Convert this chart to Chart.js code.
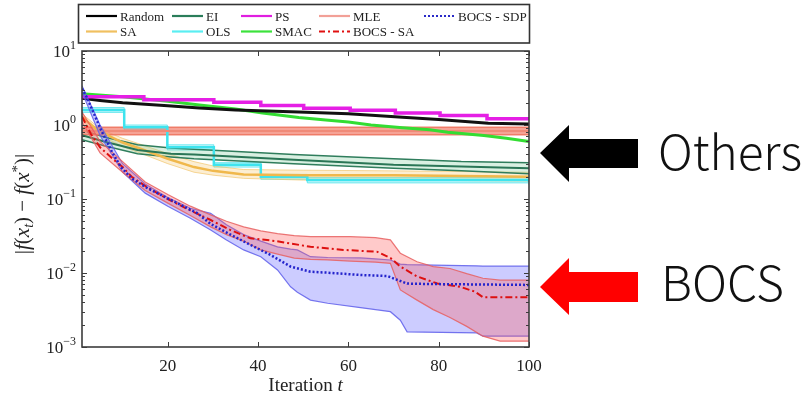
<!DOCTYPE html>
<html>
<head>
<meta charset="utf-8">
<script src="https://cdn.jsdelivr.net/npm/chart.js@4.4.0/dist/chart.umd.min.js"></script>
<style>
  html, body { margin: 0; padding: 0; background: #fff; }
  #wrap { position: relative; width: 805px; height: 398px; }
  #chart { position: absolute; left: 0; top: 0; }
  #overlay { position: absolute; left: 0; top: 0; pointer-events: none; }
</style>
</head>
<body>
<div id="wrap">
  <canvas id="chart" width="805" height="398"></canvas>
  <svg id="overlay" width="805" height="398" xmlns="http://www.w3.org/2000/svg"></svg>
</div>
<script>
// axis ticks
const iterTicks = [20, 40, 60, 80, 100];
const decadeTicks = [0.001, 0.01, 0.1, 1, 10];

// series (t = iteration, values = |f(x_t) - f(x*)|)
const randomT = [1, 5, 10, 20, 27, 35, 49, 60, 72, 80, 91, 100];
const randomY = [2.3, 2.15, 2.0, 1.82, 1.7, 1.6, 1.5, 1.42, 1.27, 1.19, 1.06, 1.03];

const psT = [1, 14.7, 30.2, 40.6, 50.1, 60.4, 70.4, 80.3, 90.7, 100];
const psY = [2.4, 2.2, 2.03, 1.84, 1.69, 1.58, 1.45, 1.34, 1.21, 1.21];

const smacT = [1, 10, 20, 27, 35, 41, 49, 55, 60, 65, 72, 78, 82, 90, 95, 100];
const smacY = [2.65, 2.4, 2.1, 1.86, 1.65, 1.45, 1.26, 1.17, 1.1, 1.0, 0.92, 0.86, 0.8, 0.72, 0.66, 0.6];

const mleT = [1, 100];
const mleY = [0.83, 0.83];
const mleHi = [0.93, 0.93];
const mleLo = [0.74, 0.74];

const saT = [1, 4, 7.4, 10, 14.7, 20, 25.8, 30, 36.8, 50, 70, 100];
const saY = [1.28, 0.9, 0.69, 0.58, 0.46, 0.35, 0.27, 0.24, 0.215, 0.21, 0.21, 0.2];
const saHi = [1.42, 1.0, 0.77, 0.66, 0.53, 0.41, 0.32, 0.28, 0.25, 0.245, 0.24, 0.23];
const saLo = [1.14, 0.8, 0.61, 0.51, 0.4, 0.3, 0.23, 0.21, 0.19, 0.18, 0.18, 0.175];

const eiT = [1, 5.9, 13.3, 20.7, 25.8, 47.9, 70, 85, 100];
const eiY = [0.73, 0.6, 0.46, 0.41, 0.4, 0.34, 0.29, 0.275, 0.26];
const eiHi = [0.86, 0.69, 0.54, 0.49, 0.47, 0.4, 0.35, 0.32, 0.31];
const eiLo = [0.63, 0.525, 0.41, 0.37, 0.35, 0.3, 0.26, 0.24, 0.22];

const olsT = [1, 10.35, 19.9, 30.2, 40.6, 50.9, 100];
const olsY = [1.6, 0.93, 0.5, 0.29, 0.2, 0.18, 0.17];
const olsHi = [1.72, 1.0, 0.54, 0.31, 0.215, 0.195, 0.185];
const olsLo = [1.48, 0.86, 0.46, 0.27, 0.185, 0.165, 0.155];

const bocsSaT = [1, 3, 5, 8, 10, 12, 15, 20, 25, 29.5, 33.9, 38.3, 44, 51.6, 58.9, 66.3, 69.3, 71.5, 75.2, 79.7, 84.8, 88, 89.8, 100];
const bocsSaY = [1.3, 0.75, 0.5, 0.34, 0.27, 0.2, 0.15, 0.1, 0.07, 0.052, 0.038, 0.0294, 0.027, 0.0226, 0.0205, 0.0194, 0.016, 0.0122, 0.009, 0.0072, 0.0065, 0.0056, 0.0047, 0.0047];
const bocsSaBandT = [1, 5, 10, 15, 20, 25, 29.5, 33, 36.8, 40.6, 44.3, 48, 51.6, 55.4, 60.4, 66, 69.3, 71.5, 75.2, 78.8, 82.5, 86.2, 89.8, 93.6, 100];
const bocsSaHi = [1.5, 0.6, 0.32, 0.17, 0.115, 0.08, 0.061, 0.05, 0.042, 0.037, 0.034, 0.032, 0.031, 0.031, 0.031, 0.03, 0.028, 0.0185, 0.0142, 0.0122, 0.0115, 0.0098, 0.0085, 0.008, 0.008];
const bocsSaLo = [1.1, 0.42, 0.23, 0.13, 0.088, 0.06, 0.042, 0.033, 0.027, 0.0205, 0.018, 0.0159, 0.0153, 0.015, 0.0145, 0.014, 0.0135, 0.0059, 0.0043, 0.0032, 0.0025, 0.0019, 0.0014, 0.0012, 0.0012];

const bocsSdpT = [1, 2, 3, 5.2, 7.5, 9.6, 12, 15.5, 20.7, 26.6, 29.5, 33.9, 38.3, 42.8, 47.2, 51.6, 55.4, 62.7, 68.6, 71, 73, 77.5, 100];
const bocsSdpY = [3.1, 2.4, 1.75, 0.86, 0.45, 0.27, 0.19, 0.14, 0.097, 0.064, 0.046, 0.033, 0.024, 0.0175, 0.0122, 0.0104, 0.0101, 0.0094, 0.0091, 0.008, 0.0072, 0.0071, 0.0069];
const bocsSdpBandT = [1, 5, 10, 15, 20, 25, 29.5, 33, 36.8, 40.6, 44.3, 47.2, 48.7, 51.6, 55.4, 62.7, 66, 69.3, 71.5, 73, 88.4, 89.8, 100];
const bocsSdpHi = [3.4, 1.0, 0.3, 0.16, 0.105, 0.075, 0.064, 0.045, 0.033, 0.027, 0.0226, 0.021, 0.0205, 0.0166, 0.0162, 0.016, 0.0155, 0.015, 0.0132, 0.013, 0.0125, 0.0124, 0.0124];
const bocsSdpLo = [2.8, 0.72, 0.23, 0.12, 0.08, 0.055, 0.038, 0.028, 0.0205, 0.0166, 0.011, 0.0065, 0.0055, 0.0043, 0.0039, 0.0034, 0.0032, 0.003, 0.0023, 0.0016, 0.00155, 0.0014, 0.0014];

const pts = (ts, vs) => ts.map((t, i) => ({ x: t, y: vs[i] }));

function line(label, ts, vs, color, width, order, extra) {
  return Object.assign({
    label, data: pts(ts, vs), borderColor: color, borderWidth: width,
    pointRadius: 0, fill: false, tension: 0, order
  }, extra || {});
}

function band(ts, hi, lo, edge, fillColor, edgeWidth, order, extra) {
  return [
    Object.assign({ data: pts(ts, hi), borderColor: edge, borderWidth: edgeWidth, pointRadius: 0, fill: false, order }, extra || {}),
    Object.assign({ data: pts(ts, lo), borderColor: edge, borderWidth: edgeWidth, pointRadius: 0, fill: '-1', backgroundColor: fillColor, order }, extra || {})
  ];
}

// stepped: true keeps the previous value until the next point, then drops
const datasets = [
  ...band(mleT, mleHi, mleLo, 'rgba(238,118,98,0.9)', 'rgba(243,128,110,0.72)', 1.5, 30),
  ...band(eiT, eiHi, eiLo, '#2f7d5c', 'rgba(130,205,160,0.3)', 1.5, 30),
  ...band(saT, saHi, saLo, 'rgba(240,190,90,0.6)', 'rgba(245,200,110,0.3)', 1, 30),
  ...band(olsT, olsHi, olsLo, 'rgba(60,225,235,0.7)', 'rgba(90,230,240,0.3)', 1, 30, { stepped: true }),
  line('MLE', mleT, mleY, '#f08a78', 2, 20),
  line('EI', eiT, eiY, '#2a7656', 2, 20),
  line('SA', saT, saY, '#f0b84c', 2.5, 20),
  line('OLS', olsT, olsY, '#3ee4ee', 2.5, 20, { stepped: true }),
  line('SMAC', smacT, smacY, '#33dd33', 3, 15),
  line('Random', randomT, randomY, '#111111', 3, 14),
  line('PS', psT, psY, '#e51fe5', 3.5, 13, { stepped: true }),
  ...band(bocsSdpBandT, bocsSdpHi, bocsSdpLo, 'rgba(95,95,235,0.85)', 'rgba(95,95,255,0.32)', 1.2, 6),
  ...band(bocsSaBandT, bocsSaHi, bocsSaLo, 'rgba(232,95,95,0.85)', 'rgba(255,90,90,0.32)', 1.2, 5),
  line('BOCS - SA', bocsSaT, bocsSaY, '#dd1010', 2, 2, { borderDash: [7, 3, 2, 3] }),
  line('BOCS - SDP', bocsSdpT, bocsSdpY, '#2424cc', 2.5, 1, { borderDash: [2, 2] })
];

const serif = '"Liberation Serif", "DejaVu Serif", serif';

function drawPieces(ctx, parts, x, y) {
  parts.forEach(([txt, font, dy]) => {
    ctx.font = font;
    ctx.fillText(txt, x, y + dy);
    x += ctx.measureText(txt).width;
  });
}

function piecesWidth(ctx, parts) {
  let w = 0;
  parts.forEach(([txt, font]) => { ctx.font = font; w += ctx.measureText(txt).width; });
  return w;
}

const framePlugin = {
  id: 'frame',
  afterDatasetsDraw(chart) {
    const { ctx, chartArea: a, scales: { x, y } } = chart;
    ctx.save();
    ctx.strokeStyle = '#3c3c3c';
    ctx.lineWidth = 1.6;
    ctx.strokeRect(a.left, a.top, a.right - a.left, a.bottom - a.top);

    ctx.lineWidth = 1;
    ctx.beginPath();
    iterTicks.forEach(t => {
      const px = Math.round(x.getPixelForValue(t)) + 0.5;
      ctx.moveTo(px, a.bottom); ctx.lineTo(px, a.bottom - 5);
      ctx.moveTo(px, a.top); ctx.lineTo(px, a.top + 5);
    });
    decadeTicks.forEach((d, i) => {
      const py = Math.round(y.getPixelForValue(d)) + 0.5;
      ctx.moveTo(a.left, py); ctx.lineTo(a.left + 5, py);
      ctx.moveTo(a.right, py); ctx.lineTo(a.right - 5, py);
      if (i < decadeTicks.length - 1) {
        for (let m = 2; m <= 9; m++) {
          const my = Math.round(y.getPixelForValue(d * m)) + 0.5;
          ctx.moveTo(a.left, my); ctx.lineTo(a.left + 3, my);
          ctx.moveTo(a.right, my); ctx.lineTo(a.right - 3, my);
        }
      }
    });
    ctx.stroke();

    // y tick labels 10^k
    ctx.fillStyle = '#222';
    ctx.textBaseline = 'alphabetic';
    ctx.textAlign = 'left';
    decadeTicks.forEach(d => {
      const k = Math.round(Math.log10(d));
      const exp = (k < 0 ? '\u2212' : '') + Math.abs(k);
      const parts = [['10', '17px ' + serif, 0], [exp, '12px ' + serif, -8]];
      const w = piecesWidth(ctx, parts);
      drawPieces(ctx, parts, a.left - 6 - w, y.getPixelForValue(d) + 6);
    });

    // x title
    const xParts = [['Iteration ', '19px ' + serif, 0], ['t', 'italic 19px ' + serif, 0]];
    const xw = piecesWidth(ctx, xParts);
    drawPieces(ctx, xParts, (a.left + a.right) / 2 - xw / 2, 391);

    // y title
    const I = 'italic 21px ' + serif, N = '21px ' + serif;
    const yParts = [['|', N, 0], ['f', I, 0], ['(', N, 0], ['x', I, 0], ['t', 'italic 14px ' + serif, 4],
      [')', N, 0], [' \u2212 ', N, 0], ['f', I, 0], ['(', N, 0], ['x', I, 0], ['*', '15px ' + serif, -7],
      [')', N, 0], ['|', N, 0]];
    const yw = piecesWidth(ctx, yParts);
    ctx.translate(29, (a.top + a.bottom) / 2 + 5);
    ctx.rotate(-Math.PI / 2);
    drawPieces(ctx, yParts, -yw / 2, 0);
    ctx.restore();
  }
};

new Chart(document.getElementById('chart'), {
  type: 'line',
  data: { datasets },
  options: {
    responsive: false,
    animation: false,
    devicePixelRatio: 1,
    layout: { padding: { left: 0, top: 51, right: 276, bottom: 0 } },
    plugins: { legend: { display: false }, tooltip: { enabled: false } },
    scales: {
      x: {
        type: 'linear', min: 1, max: 100,
        grid: { display: false, drawTicks: false },
        border: { display: false },
        ticks: { color: '#222', font: { family: serif, size: 17 }, padding: 9 },
        afterBuildTicks: s => { s.ticks = iterTicks.map(v => ({ value: v })); },
        afterFit: s => { s.height = 51; }
      },
      y: {
        type: 'logarithmic', min: 0.001, max: 10,
        grid: { display: false },
        border: { display: false },
        ticks: { display: false },
        afterBuildTicks: s => { s.ticks = decadeTicks.map(v => ({ value: v })); },
        afterFit: s => { s.width = 82; }
      }
    }
  },
  plugins: [framePlugin]
});

// legend and annotations
const legendRows = [
  ['Random', 'EI', 'PS', 'MLE', 'BOCS - SDP'],
  ['SA', 'OLS', 'SMAC', 'BOCS - SA']
];
const legendColors = {
  'Random': '#000000', 'EI': '#2a7d5a', 'PS': '#e01ee0', 'MLE': '#f2a097', 'BOCS - SDP': '#2a2ac8',
  'SA': '#f0c060', 'OLS': '#5aeef2', 'SMAC': '#3ce23c', 'BOCS - SA': '#e01010'
};
const legendDash = { 'BOCS - SDP': '2 2', 'BOCS - SA': '6 3 2 3' };
const legendColX = [86, 172, 241, 319, 424];
const legendRowY = [16, 31.5];

const svg = document.getElementById('overlay');
function add(tag, attrs, text) {
  const el = document.createElementNS('http://www.w3.org/2000/svg', tag);
  Object.keys(attrs).forEach(k => el.setAttribute(k, attrs[k]));
  if (text) el.textContent = text;
  svg.appendChild(el);
  return el;
}

add('rect', { x: 78.5, y: 4.5, width: 451, height: 38.5, fill: '#fff', stroke: '#333', 'stroke-width': 1.6 });
legendRows.forEach((row, r) => {
  row.forEach((name, c) => {
    const x0 = legendColX[c], yy = legendRowY[r];
    const attrs = { x1: x0, x2: x0 + 31, y1: yy, y2: yy, stroke: legendColors[name], 'stroke-width': 2.2 };
    if (legendDash[name]) attrs['stroke-dasharray'] = legendDash[name];
    add('line', attrs);
    add('text', { x: x0 + 34, y: yy + 4.5, 'font-family': 'Liberation Serif, serif', 'font-size': 13, fill: '#222' }, name);
  });
});

// big callouts, sized to the width they take in the figure
const jp = '"Noto Sans CJK JP", "Noto Sans", sans-serif';
function callout(txt, x, y, width) {
  const el = add('text', { x, y, 'font-family': jp, 'font-size': 48, 'font-weight': 300, fill: '#111' }, txt);
  const w = el.getComputedTextLength();
  if (w > 0) el.setAttribute('font-size', (48 * width / w).toFixed(1));
}
add('polygon', { points: '540,153 569,125 569,139 638,139 638,168 569,168 569,182', fill: '#000' });
callout('Others', 658, 170, 144);
add('polygon', { points: '540,287 569,258 569,272 638,272 638,302 569,302 569,315', fill: '#ff0000' });
callout('BOCS', 661, 301, 123);
</script>
</body>
</html>
